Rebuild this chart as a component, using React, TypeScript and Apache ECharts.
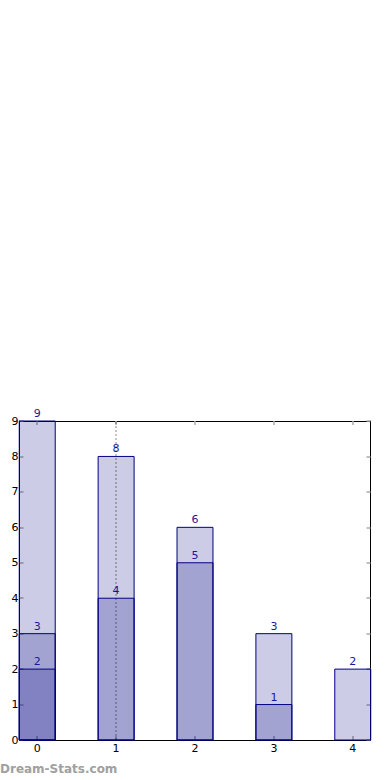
import React, { useEffect, useRef } from "react";
import * as echarts from "echarts";

const categories = [0, 1, 2, 3, 4];
const seriesA = [9, 8, 6, 3, 2];
const seriesB = [3, 4, 5, 1, null];
const seriesC = [2, null, null, null, null];
const gridLineAt = [1];

const HALF = 0.228;
const FONT = "DejaVu Sans";

function toData(vals: (number | null)[]) {
  const out: number[][] = [];
  vals.forEach((v, i) => {
    if (v !== null) out.push([categories[i], v]);
  });
  return out;
}

export default function App() {
  const ref = useRef<HTMLDivElement>(null);
  useEffect(() => {
    document.body.style.margin = "0";
    if (!ref.current) return;
    const chart = echarts.init(ref.current, null, { renderer: "svg" });
    const renderItem = (params: any, api: any) => {
      const x = api.value(0);
      const y = api.value(1);
      const p0 = api.coord([x - HALF, y]);
      const p1 = api.coord([x + HALF, 0]);
      return {
        type: "group",
        children: [
          {
            type: "rect",
            shape: { x: p0[0], y: p0[1], width: p1[0] - p0[0], height: p1[1] - p0[1] },
            style: { fill: "rgba(0,0,128,0.2)", stroke: "#000080", lineWidth: 1 },
          },
          {
            type: "text",
            z2: 10,
            style: {
              text: String(y),
              x: (p0[0] + p1[0]) / 2,
              y: p0[1] - 2,
              align: "center",
              verticalAlign: "bottom",
              fill: "#1a1a99",
              font: `11px "${FONT}"`,
            },
          },
        ],
      };
    };
    const mk = (name: string, vals: (number | null)[]) => ({
      type: "custom",
      name,
      renderItem,
      data: toData(vals),
      xAxisIndex: 0,
      yAxisIndex: 0,
      z: 3,
    });
    const tickStyle = { show: true, inside: true, length: 4, lineStyle: { color: "#aaaaaa", width: 1.5 } };
    const lineStyle = { show: true, onZero: false, lineStyle: { color: "#000", width: 1 } };
    chart.setOption({
      animation: false,
      textStyle: { fontFamily: FONT },
      grid: { left: 19.5, right: 19.5, top: 421, bottom: 40, containLabel: false },
      graphic: [
        {
          type: "text",
          left: 0,
          top: 763,
          style: { text: "Dream-Stats.com", fill: "#a0a0a0", font: `bold 12px "${FONT}"` },
        },
      ],
      xAxis: [
        {
          type: "value",
          min: -0.225,
          max: 4.225,
          axisLine: lineStyle,
          axisTick: { ...tickStyle, customValues: categories },
          axisLabel: { customValues: categories, color: "#000", fontSize: 11, margin: 3, fontFamily: FONT },
          splitLine: { show: false },
        },
        {
          type: "value",
          position: "top",
          min: -0.225,
          max: 4.225,
          axisLine: lineStyle,
          axisTick: { ...tickStyle, customValues: categories },
          axisLabel: { show: false },
          splitLine: { show: false },
        },
      ],
      yAxis: [
        {
          type: "value",
          min: 0,
          max: 9,
          interval: 1,
          axisLine: lineStyle,
          axisTick: { ...tickStyle },
          axisLabel: { color: "#000", fontSize: 11, margin: 1, fontFamily: FONT },
          splitLine: { show: false },
        },
        {
          type: "value",
          position: "right",
          min: 0,
          max: 9,
          interval: 1,
          axisLine: lineStyle,
          axisTick: { ...tickStyle },
          axisLabel: { show: false },
          splitLine: { show: false },
        },
      ],
      series: [
        mk("A", seriesA),
        mk("B", seriesB),
        mk("C", seriesC),
        {
          type: "line",
          name: "grid",
          data: [],
          z: 10,
          markLine: {
            silent: true,
            symbol: "none",
            label: { show: false },
            lineStyle: { color: "rgba(0,0,0,0.3)", type: [2, 2], width: 1.5 },
            data: gridLineAt.map((v) => ({ xAxis: v })),
            z: 10,
          },
        },
      ],
    });
    return () => chart.dispose();
  }, []);
  return <div ref={ref} style={{ width: 390, height: 780 }} />;
}
